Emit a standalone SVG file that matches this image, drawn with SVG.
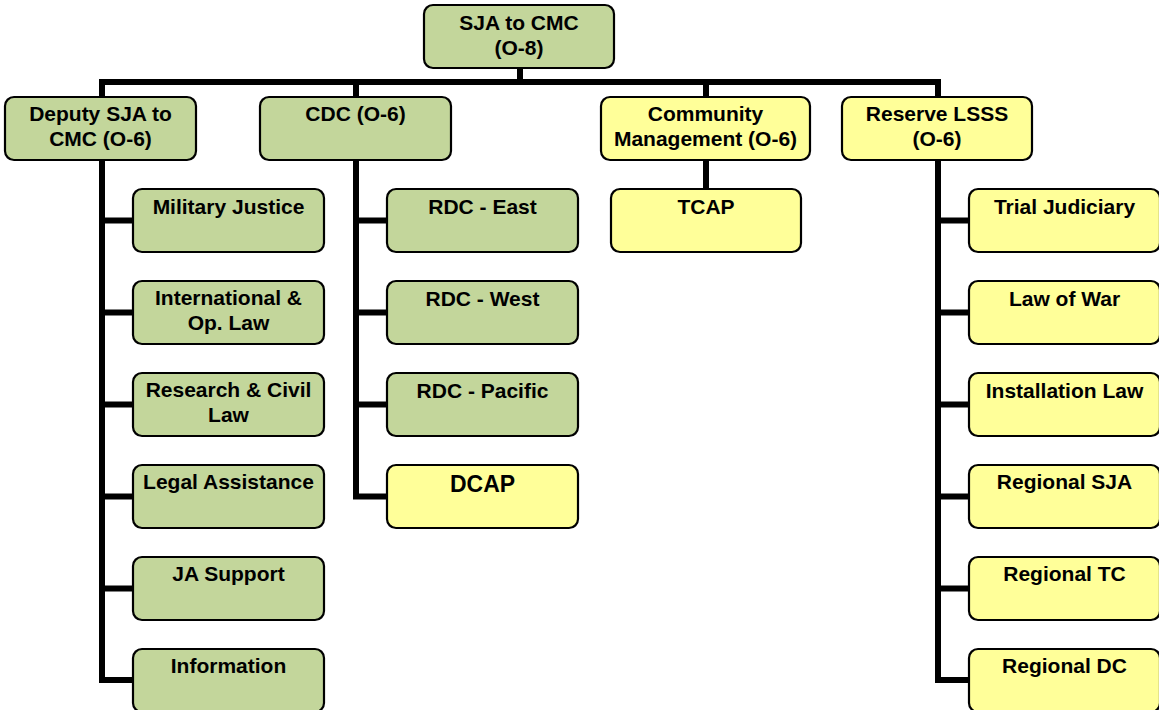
<svg xmlns="http://www.w3.org/2000/svg" width="1159" height="710" viewBox="0 0 1159 710">
<style>
.box{stroke:#000;stroke-width:2.2}
.g{fill:#C3D69B}
.y{fill:#FFFF99}
text{font-family:"Liberation Sans",Arial,sans-serif;font-weight:bold;font-size:21px;fill:#000;text-anchor:middle}
.big{font-size:23px}
.conn{fill:none;stroke:#000;stroke-width:6;stroke-linejoin:miter;stroke-linecap:butt}
</style>
<rect width="1159" height="710" fill="#fff"/>
<g id="connectors" class="conn">
<path d="M520 68 V82"/>
<path d="M102 97 V82 H938 V97"/>
<path d="M356 82 V97"/>
<path d="M706 82 V97"/>
<path d="M102 160 V680 H133"/>
<path d="M102 220.5 H133 M102 312.5 H133 M102 404.5 H133 M102 496.5 H133 M102 588.5 H133"/>
<path d="M356 160 V496.5 H387"/>
<path d="M356 220.5 H387 M356 312.5 H387 M356 404.5 H387"/>
<path d="M706 160 V189"/>
<path d="M938 160 V680 H969"/>
<path d="M938 220.5 H969 M938 312.5 H969 M938 404.5 H969 M938 496.5 H969 M938 588.5 H969"/>
</g>
<g id="sja">
<rect class="box g" x="424" y="5" width="190" height="63" rx="9"/>
<text x="519" y="30">SJA to CMC</text>
<text x="519" y="54.5">(O-8)</text>
</g>
<g id="deputy">
<rect class="box g" x="5" y="97" width="191" height="63" rx="9"/>
<text x="100.5" y="121">Deputy SJA to</text>
<text x="100.5" y="145.5">CMC (O-6)</text>
</g>
<g id="cdc">
<rect class="box g" x="260" y="97" width="191" height="63" rx="9"/>
<text x="355.5" y="121">CDC (O-6)</text>
</g>
<g id="community">
<rect class="box y" x="601" y="97" width="209" height="63" rx="9"/>
<text x="705.5" y="121">Community</text>
<text x="705.5" y="145.5">Management (O-6)</text>
</g>
<g id="reserve">
<rect class="box y" x="842" y="97" width="190" height="63" rx="9"/>
<text x="937" y="121">Reserve LSSS</text>
<text x="937" y="145.5">(O-6)</text>
</g>
<g id="military-justice">
<rect class="box g" x="133" y="189" width="191" height="63" rx="9"/>
<text x="228.5" y="214">Military Justice</text>
</g>
<g id="international">
<rect class="box g" x="133" y="281" width="191" height="63" rx="9"/>
<text x="228.5" y="305">International &amp;</text>
<text x="228.5" y="329.5">Op. Law</text>
</g>
<g id="research">
<rect class="box g" x="133" y="373" width="191" height="63" rx="9"/>
<text x="228.5" y="397">Research &amp; Civil</text>
<text x="228.5" y="421.5">Law</text>
</g>
<g id="legal-assistance">
<rect class="box g" x="133" y="465" width="191" height="63" rx="9"/>
<text x="228.5" y="489">Legal Assistance</text>
</g>
<g id="ja-support">
<rect class="box g" x="133" y="557" width="191" height="63" rx="9"/>
<text x="228.5" y="581">JA Support</text>
</g>
<g id="information">
<rect class="box g" x="133" y="649" width="191" height="63" rx="9"/>
<text x="228.5" y="673">Information</text>
</g>
<g id="rdc-east">
<rect class="box g" x="387" y="189" width="191" height="63" rx="9"/>
<text x="482.5" y="214">RDC - East</text>
</g>
<g id="rdc-west">
<rect class="box g" x="387" y="281" width="191" height="63" rx="9"/>
<text x="482.5" y="306">RDC - West</text>
</g>
<g id="rdc-pacific">
<rect class="box g" x="387" y="373" width="191" height="63" rx="9"/>
<text x="482.5" y="398">RDC - Pacific</text>
</g>
<g id="dcap">
<rect class="box y" x="387" y="465" width="191" height="63" rx="9"/>
<text class="big" x="482.5" y="492">DCAP</text>
</g>
<g id="tcap">
<rect class="box y" x="611" y="189" width="190" height="63" rx="9"/>
<text x="706" y="214">TCAP</text>
</g>
<g id="trial-judiciary">
<rect class="box y" x="969" y="189" width="191" height="63" rx="9"/>
<text x="1064.5" y="214">Trial Judiciary</text>
</g>
<g id="law-of-war">
<rect class="box y" x="969" y="281" width="191" height="63" rx="9"/>
<text x="1064.5" y="306">Law of War</text>
</g>
<g id="installation-law">
<rect class="box y" x="969" y="373" width="191" height="63" rx="9"/>
<text x="1064.5" y="398">Installation Law</text>
</g>
<g id="regional-sja">
<rect class="box y" x="969" y="465" width="191" height="63" rx="9"/>
<text x="1064.5" y="489">Regional SJA</text>
</g>
<g id="regional-tc">
<rect class="box y" x="969" y="557" width="191" height="63" rx="9"/>
<text x="1064.5" y="581">Regional TC</text>
</g>
<g id="regional-dc">
<rect class="box y" x="969" y="649" width="191" height="63" rx="9"/>
<text x="1064.5" y="673">Regional DC</text>
</g>
</svg>
